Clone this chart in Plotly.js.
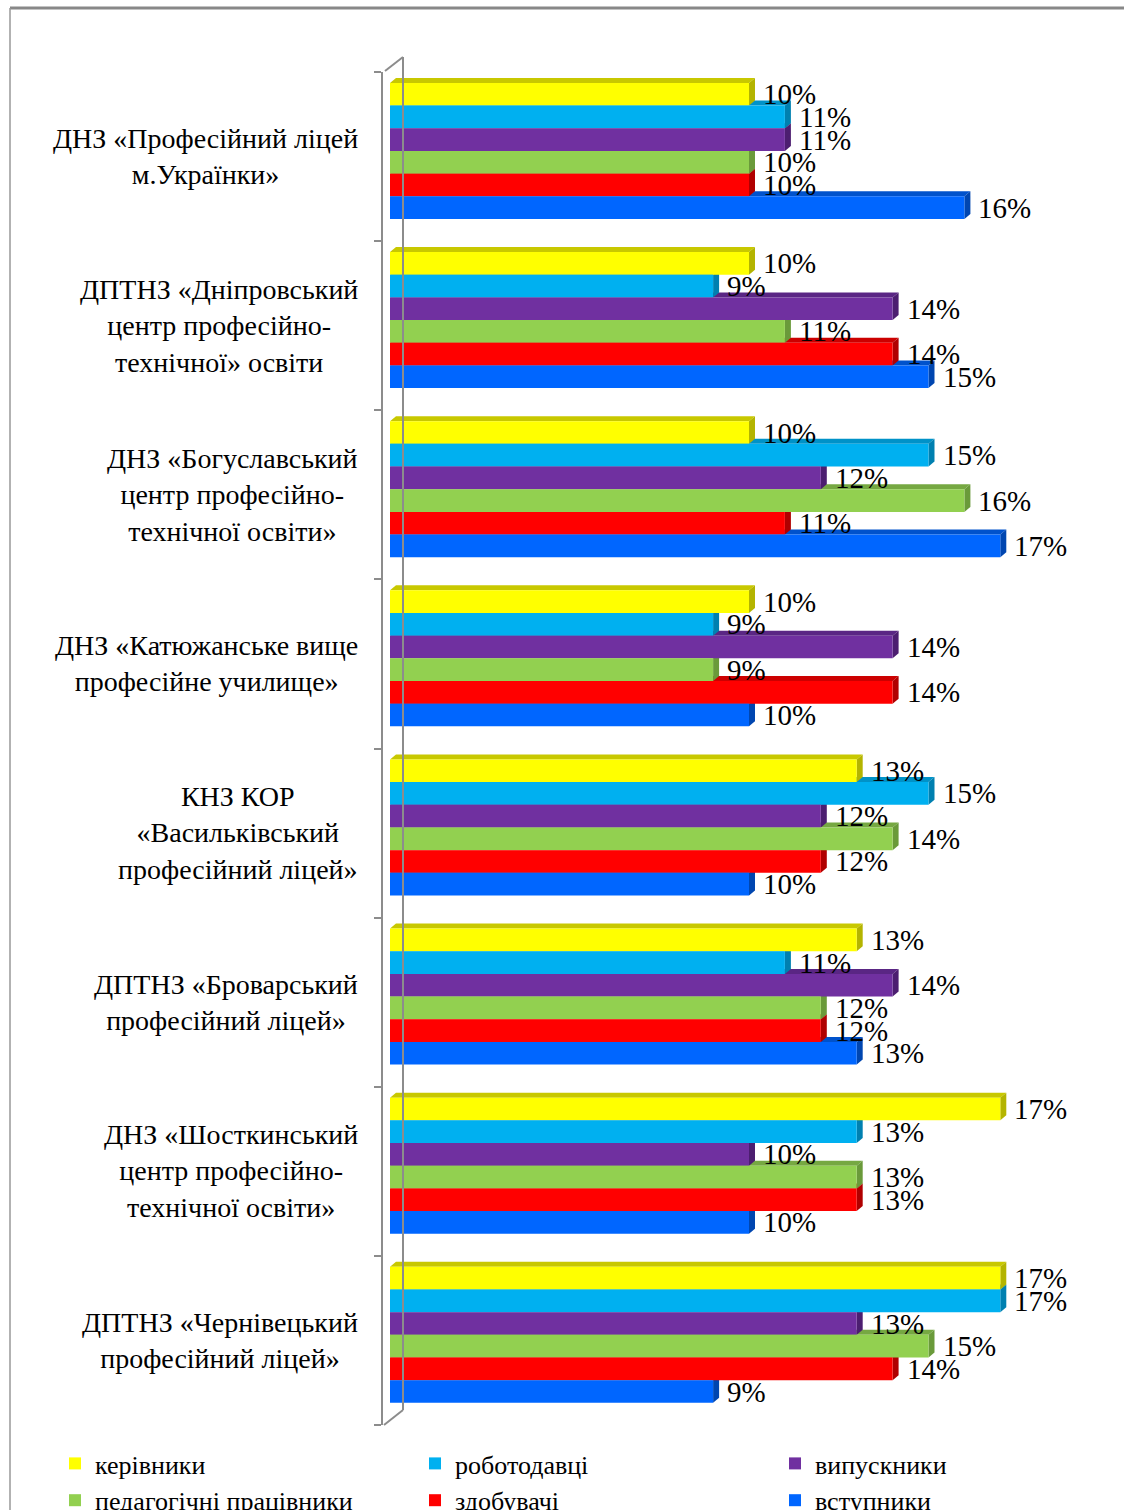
<!DOCTYPE html>
<html>
<head>
<meta charset="utf-8">
<script src="https://cdn.plot.ly/plotly-3.0.1.min.js"></script>
<style>html,body{margin:0;padding:0;background:#fff;}#chart{width:1124px;height:1510px;}</style>
</head>
<body>
<div id="chart"></div>
<script>
// ---- data ----
const categories = [
  'ДНЗ «Професійний ліцей<br>м.Українки»',
  'ДПТНЗ «Дніпровський<br>центр професійно-<br>технічної» освіти',
  'ДНЗ «Богуславський<br>центр професійно-<br>технічної освіти»',
  'ДНЗ «Катюжанське вище<br>професійне училище»',
  'КНЗ КОР<br>«Васильківський<br>професійний ліцей»',
  'ДПТНЗ «Броварський<br>професійний ліцей»',
  'ДНЗ «Шосткинський<br>центр професійно-<br>технічної освіти»',
  'ДПТНЗ «Чернівецький<br>професійний ліцей»'
];
const seriesNames = ['керівники','роботодавці','випускники','педагогічні працівники','здобувачі','вступники'];
const kerivnyky    = [10,10,10,10,13,13,17,17];
const robotodavtsi = [11, 9,15, 9,15,11,13,17];
const vypusknyky   = [11,14,12,14,12,14,10,13];
const pedagogichni = [10,11,16, 9,14,12,13,15];
const zdobuvachi   = [10,14,11,14,12,12,13,14];
const vstupnyky    = [16,15,17,10,10,13,10, 9];
const seriesValues = [kerivnyky, robotodavtsi, vypusknyky, pedagogichni, zdobuvachi, vstupnyky];

// ---- styles ----
const faceColors = ['#FFFF00','#00B0F0','#7030A0','#92D050','#FF0000','#0066FF'];
const topColors  = ['#C8C800','#0092C8','#5A2684','#76A842','#CC0000','#0052CC'];
const sideColors = ['#B4B400','#0080B0','#4C1E70','#6A9A3A','#B00000','#0046B0'];

const W = 1124, H = 1510;
const L = 383, R = 1111, T = 72, B = 1425;
const pw = R - L, ph = B - T;
const zeroPx = 390, pxPerUnit = 35.9;
const xRange = [(L - zeroPx) / pxPerUnit, (R - zeroPx) / pxPerUnit];
const nCat = categories.length;
const catPx = ph / nCat;
const barH = 22.67 / catPx;
const groupH = barH * 6;
const shift = -5.6 / catPx;
const dxU = 6 / pxPerUnit, dyU = 5 / catPx;
const serif = 'Liberation Serif, Times New Roman, serif';
const px2x = p => (p - L) / pw;
const px2y = p => (B - p) / ph;

const idx = categories.map((c, i) => i);
const traces = seriesValues.map((vals, j) => ({
  type: 'bar', orientation: 'h', name: seriesNames[j],
  x: vals, y: idx,
  offset: shift - groupH / 2 + j * barH, width: barH,
  marker: {color: faceColors[j], line: {width: 0}},
  hoverinfo: 'skip'
}));

const shapes = [];
const annotations = [];
for (let i = 0; i < nCat; i++) {
  for (let j = 5; j >= 0; j--) {
    const v = seriesValues[j][i];
    const top = i + shift - groupH / 2 + j * barH;
    const bot = top + barH;
    shapes.push({type: 'path', xref: 'x', yref: 'y', layer: 'below', line: {width: 0}, fillcolor: topColors[j],
      path: `M0,${top} L${dxU},${top - dyU} L${v + dxU},${top - dyU} L${v},${top} Z`});
    shapes.push({type: 'path', xref: 'x', yref: 'y', layer: 'below', line: {width: 0}, fillcolor: sideColors[j],
      path: `M${v},${top} L${v + dxU},${top - dyU} L${v + dxU},${bot - dyU} L${v},${bot} Z`});
  }
  for (let j = 0; j < 6; j++) {
    const v = seriesValues[j][i];
    const top = i + shift - groupH / 2 + j * barH;
    annotations.push({x: v, y: top + barH / 2, xref: 'x', yref: 'y', text: v + '%', showarrow: false,
      xanchor: 'left', yanchor: 'middle', xshift: 12, font: {family: serif, size: 29, color: '#000'}});
  }
  annotations.push({x: px2x(360), y: i, xref: 'paper', yref: 'y', text: categories[i], showarrow: false,
    xanchor: 'right', yanchor: 'middle', align: 'center', font: {family: serif, size: 28, color: '#000'}});
}

// frame and 3D axis wall decorations
const gray = '#8c8c8c';
shapes.push({type: 'line', xref: 'paper', yref: 'paper', x0: px2x(10), x1: px2x(1124), y0: px2y(8), y1: px2y(8), line: {color: '#888', width: 3}});
shapes.push({type: 'line', xref: 'paper', yref: 'paper', x0: px2x(10), x1: px2x(10), y0: px2y(8), y1: px2y(1510), line: {color: '#999', width: 1.5}});
shapes.push({type: 'line', xref: 'paper', yref: 'paper', x0: px2x(403), x1: px2x(403), y0: px2y(57), y1: px2y(1410), line: {color: gray, width: 2}});
shapes.push({type: 'line', xref: 'paper', yref: 'paper', x0: px2x(385), x1: px2x(403), y0: px2y(71), y1: px2y(57), line: {color: gray, width: 2}});
shapes.push({type: 'line', xref: 'paper', yref: 'paper', x0: px2x(384), x1: px2x(403), y0: px2y(1425), y1: px2y(1410), line: {color: gray, width: 2}});

const boundaries = [];
for (let k = 0; k <= nCat; k++) boundaries.push(k - 0.5);

const layout = {
  width: W, height: H,
  margin: {l: L, r: W - R, t: T, b: H - B, autoexpand: false},
  paper_bgcolor: '#fff', plot_bgcolor: 'rgba(0,0,0,0)',
  barmode: 'overlay',
  showlegend: true,
  xaxis: {range: xRange, visible: false, fixedrange: true},
  yaxis: {range: [nCat - 0.5, -0.5], tickmode: 'array', tickvals: boundaries, ticktext: boundaries.map(() => ''),
    showticklabels: false, ticks: 'outside', ticklen: 7, tickwidth: 2, tickcolor: gray,
    showline: true, linecolor: gray, linewidth: 2, showgrid: false, zeroline: false, fixedrange: true},
  legend: {orientation: 'h', x: px2x(55), xanchor: 'left', y: px2y(1440), yanchor: 'top',
    entrywidth: 315, entrywidthmode: 'pixels', font: {family: serif, size: 26, color: '#000'},
    bgcolor: 'rgba(0,0,0,0)', tracegroupgap: 0, itemclick: false},
  shapes: shapes,
  annotations: annotations
};

Plotly.newPlot('chart', traces, layout, {displayModeBar: false, staticPlot: true});
</script>
</body>
</html>
